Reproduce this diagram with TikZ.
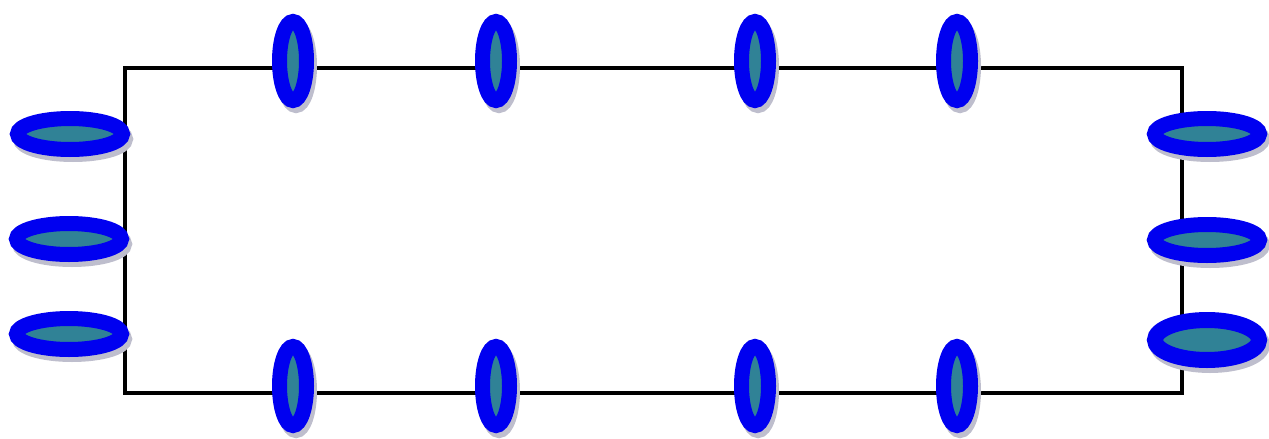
\documentclass[tikz,border=0pt]{standalone}
\usetikzlibrary{shapes.geometric,shadows}
\definecolor{myblue}{RGB}{0,0,240}
\definecolor{myteal}{RGB}{48,130,150}
\definecolor{myshadow}{RGB}{190,190,205}
\begin{document}
\begin{tikzpicture}[x=0.5pt,y=-0.5pt,
  portnode/.style={ellipse,draw=myblue,fill=myteal,inner sep=0pt,outer sep=0pt,
    drop shadow={shadow xshift=1.5pt,shadow yshift=-2.5pt,draw=myshadow,fill=myshadow,opacity=1}},
  vnode/.style={portnode,line width=7.5pt,minimum width=13.5pt,minimum height=39.5pt},
  hnode/.style={portnode,line width=7.5pt,minimum width=52.5pt,minimum height=15.5pt},
  bignode/.style={portnode,line width=8pt,minimum width=52pt,minimum height=20pt}
]
\useasboundingbox (0,0) rectangle (1269,439);

% the corners of the frame
\coordinate (tl) at (125,68);
\coordinate (tr) at (1182,68);
\coordinate (br) at (1182,393);
\coordinate (bl) at (125,393);

% the frame
\draw[line width=2.25pt] (tl) -- (tr) -- (br) -- (bl) -- cycle;

% the top row
\node[vnode] (t1) at (293,61) {};
\node[vnode] (t2) at (496,61) {};
\node[vnode] (t3) at (755,61) {};
\node[vnode] (t4) at (957,61) {};

% the bottom row
\node[vnode] (b1) at (293,386) {};
\node[vnode] (b2) at (496,386) {};
\node[vnode] (b3) at (755,386) {};
\node[vnode] (b4) at (957,386) {};

% the left side
\node[hnode] (l1) at (70,134) {};
\node[hnode] (l2) at (69,239) {};
\node[hnode] (l3) at (69,334) {};

% the right side
\node[hnode] (r1) at (1207,134) {};
\node[hnode] (r2) at (1207,240) {};
\node[bignode] (r3) at (1207,340) {};
\end{tikzpicture}
\end{document}
